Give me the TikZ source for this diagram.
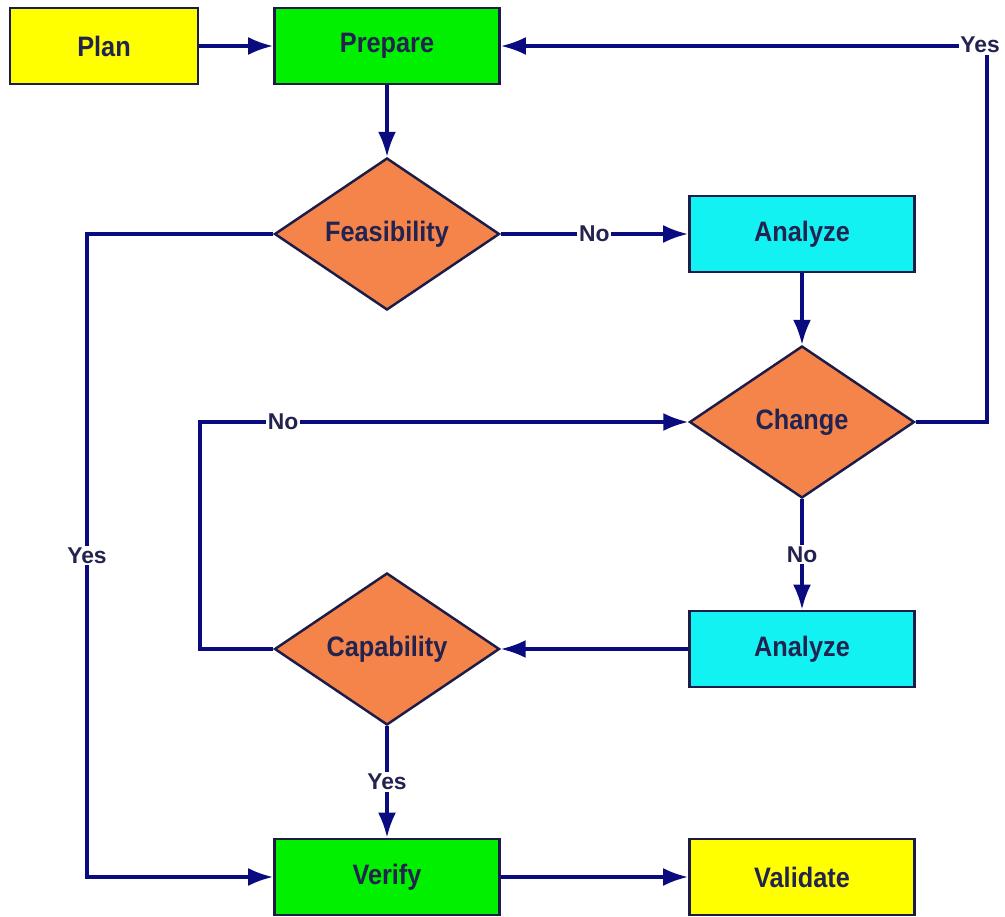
\documentclass[tikz,border=0pt]{standalone}
\usepackage{fontspec}
\setmainfont{Liberation Sans}
\newfontfamily\boxfont{Liberation Sans}[FakeStretch=0.9]
\usetikzlibrary{shapes.geometric,arrows.meta}
\definecolor{navy}{HTML}{0B0B80}
\definecolor{edgecol}{HTML}{1C1C48}
\definecolor{txt}{HTML}{23234F}
\definecolor{planyel}{HTML}{FFFF00}
\definecolor{prepgreen}{HTML}{00F000}
\definecolor{anacyan}{HTML}{12F2F2}
\definecolor{decorange}{HTML}{F5844A}

\begin{document}
\begin{tikzpicture}[%
  font=\boxfont\bfseries\fontsize{16}{18}\selectfont,
  box/.style={draw=edgecol, line width=1.6pt, minimum width=4.5cm,
    minimum height=1.52cm, text=txt},
  decision/.style={diamond, draw=edgecol, line width=1.4pt, fill=decorange,
    minimum width=4.5cm, minimum height=3.04cm, inner sep=0pt, text=txt},
  flow/.style={draw=navy, line width=1.8pt, -{Latex[length=5mm,width=3.6mm]}},
  lbl/.style={fill=white, inner sep=1pt, text=txt,
    font=\bfseries\fontsize{13}{15}\selectfont}
  ]
  \useasboundingbox (0,0) rectangle (20.1,-18.34);
  % boxes
  \node[box, fill=planyel, minimum width=3.76cm] (plan) at (2.08,-0.92) {Plan};
  \node[box, fill=prepgreen] (prepare) at (7.74,-0.92) {Prepare};
  \node[decision] (feasibility) at (7.74,-4.68) {Feasibility};
  \node[box, fill=anacyan] (analyzeA) at (16.04,-4.68) {Analyze};
  \node[decision] (change) at (16.04,-8.44) {Change};
  \node[box, fill=anacyan] (analyzeB) at (16.04,-12.98) {Analyze};
  \node[decision] (capability) at (7.74,-12.98) {Capability};
  \node[box, fill=prepgreen] (verify) at (7.74,-17.54) {Verify};
  \node[box, fill=planyel] (validate) at (16.04,-17.54) {Validate};
  % corners of the loops
  \coordinate (yesR) at (19.74,-0.92);
  \coordinate (yesL1) at (1.74,-4.68);
  \coordinate (yesL2) at (1.74,-17.54);
  \coordinate (noL1) at (4.0,-12.98);
  \coordinate (noL2) at (4.0,-8.44);
  % straight connectors
  \draw[flow] (plan) -- (prepare);
  \draw[flow] (prepare) -- (feasibility);
  \draw[flow] (feasibility) -- node[lbl]{No} (analyzeA);
  \draw[flow] (analyzeA) -- (change);
  \draw[flow] (change) -- node[lbl]{No} (analyzeB);
  \draw[flow] (analyzeB) -- (capability);
  \draw[flow] (capability) -- node[lbl]{Yes} (verify);
  \draw[flow] (verify) -- (validate);
  % loops
  \draw[flow] (change.east) -| (yesR) -- (prepare.east);
  \node[lbl] (yestop) at (19.6,-0.9) {Yes};
  \draw[flow] (feasibility.west) -- (yesL1) -- node[lbl]{Yes} (yesL2) -- (verify.west);
  \draw[flow] (capability.west) -- (noL1) -- (noL2)
    -- node[lbl, pos=0.17]{No} (change.west);
\end{tikzpicture}
\end{document}
